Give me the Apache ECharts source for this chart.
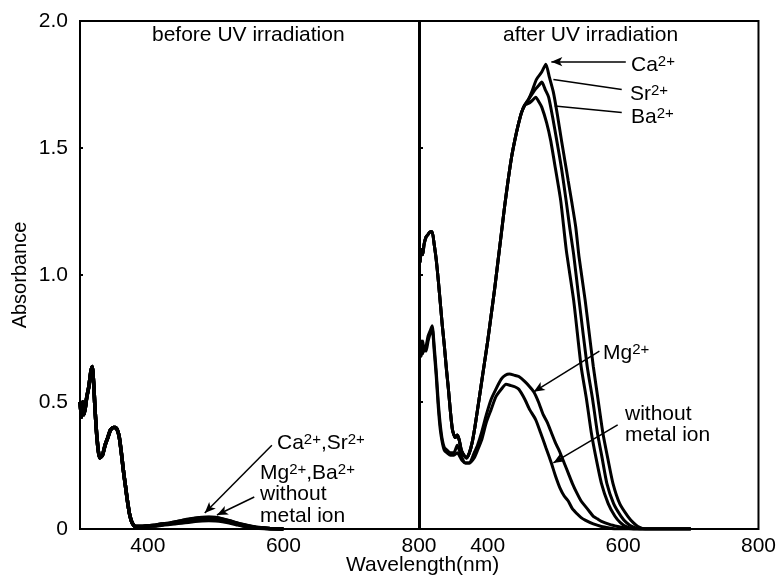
<!DOCTYPE html>
<html>
<head>
    <meta charset="utf-8">
    <title>Absorbance</title>
    <script src="https://cdn.jsdelivr.net/npm/echarts@6/dist/echarts.min.js"></script>
    <style>
        html, body { margin: 0; padding: 0; background: #fff; }
        #main { width: 779px; height: 581px; }
    </style>
</head>
<body>
<div id="main"></div>
<script type="text/javascript">
    // before UV: shared UV part (all ions overlap)
    var beforeUvNm = [300, 302, 304, 306, 308, 310, 313, 316, 318, 320, 322, 325, 329, 333, 337, 341, 345, 349, 352, 355, 358, 361, 364, 367, 370, 373, 376, 379, 382, 390, 400];
    var beforeUvAbs = [0.50, 0.44, 0.50, 0.45, 0.48, 0.52, 0.56, 0.62, 0.64, 0.58, 0.48, 0.36, 0.28, 0.29, 0.33, 0.36, 0.39, 0.40, 0.40, 0.39, 0.36, 0.30, 0.23, 0.17, 0.11, 0.06, 0.03, 0.015, 0.01, 0.01, 0.012];

    // before UV: weak visible band
    var beforeVisNm = [410, 420, 430, 440, 450, 460, 470, 480, 490, 500, 510, 520, 530, 540, 550, 560, 570, 580, 600];
    var beforeCa = [0.015, 0.02, 0.022, 0.028, 0.033, 0.038, 0.042, 0.045, 0.046, 0.045, 0.04, 0.033, 0.025, 0.018, 0.012, 0.007, 0.004, 0.002, 0];
    var beforeSr = [0.015, 0.02, 0.022, 0.027, 0.032, 0.037, 0.041, 0.044, 0.045, 0.044, 0.039, 0.032, 0.024, 0.017, 0.011, 0.006, 0.004, 0.002, 0];
    var beforeMg = [0.013, 0.017, 0.02, 0.024, 0.028, 0.032, 0.035, 0.037, 0.038, 0.037, 0.033, 0.027, 0.02, 0.014, 0.009, 0.005, 0.003, 0.001, 0];
    var beforeBa = [0.013, 0.017, 0.02, 0.025, 0.029, 0.033, 0.036, 0.038, 0.039, 0.038, 0.034, 0.028, 0.021, 0.015, 0.01, 0.005, 0.003, 0.001, 0];
    var beforeNone = [0.012, 0.015, 0.018, 0.021, 0.024, 0.027, 0.03, 0.032, 0.033, 0.032, 0.029, 0.024, 0.018, 0.012, 0.008, 0.004, 0.002, 0.001, 0];

    // after UV: Ca / Sr / Ba share the part below 455 nm
    var afterHighNm = [300, 302, 304, 306, 309, 312, 315, 318, 321, 324, 327, 330, 333, 336, 339, 342, 345, 348, 352, 355, 358, 361, 365, 369, 373, 377, 381, 385, 390, 395, 400, 405, 410, 415, 420, 425, 430, 435, 440, 445, 450, 455];
    var afterHighAbs = [1.05, 1.10, 1.08, 1.12, 1.15, 1.16, 1.17, 1.17, 1.12, 1.06, 0.98, 0.89, 0.80, 0.72, 0.63, 0.55, 0.46, 0.39, 0.36, 0.37, 0.35, 0.31, 0.29, 0.28, 0.30, 0.34, 0.40, 0.47, 0.56, 0.65, 0.74, 0.84, 0.94, 1.05, 1.16, 1.27, 1.37, 1.46, 1.53, 1.59, 1.64, 1.67];

    var caNm = [460, 465, 472, 480, 486, 491, 497, 503, 509, 514, 519, 524, 530, 535, 544, 550, 556, 563, 570, 578, 585, 595, 607, 615, 622, 633, 700];
    var caAbs = [1.69, 1.72, 1.77, 1.80, 1.83, 1.78, 1.72, 1.63, 1.53, 1.45, 1.37, 1.29, 1.19, 1.07, 0.90, 0.77, 0.64, 0.51, 0.38, 0.27, 0.18, 0.10, 0.05, 0.025, 0.01, 0, 0];
    var srNm = [460, 465, 470, 475, 480, 485, 490, 496, 502, 509, 516, 521, 527, 535, 547, 555, 562, 569, 576, 586, 597, 605, 613, 625, 700];
    var srAbs = [1.69, 1.71, 1.73, 1.745, 1.76, 1.73, 1.70, 1.62, 1.53, 1.42, 1.29, 1.19, 1.08, 0.90, 0.64, 0.51, 0.38, 0.28, 0.18, 0.10, 0.05, 0.025, 0.01, 0, 0];
    var baNm = [460, 465, 471, 476, 480, 487, 493, 500, 508, 516, 527, 538, 546, 553, 560, 568, 578, 588, 596, 604, 616, 700];
    var baAbs = [1.675, 1.685, 1.70, 1.68, 1.66, 1.60, 1.53, 1.42, 1.29, 1.10, 0.90, 0.64, 0.51, 0.38, 0.28, 0.18, 0.10, 0.05, 0.025, 0.01, 0, 0];

    // after UV: Mg2+ and no metal ion
    var mgNm = [300, 302, 304, 306, 309, 312, 315, 318, 321, 324, 327, 330, 333, 336, 340, 345, 350, 355, 358, 362, 367, 373, 380, 385, 391, 398, 405, 412, 420, 426, 432, 440, 446, 455, 462, 468, 475, 482, 488, 494, 500, 507, 513, 519, 525, 532, 538, 544, 550, 556, 562, 568, 580, 592, 605, 615, 700];
    var mgAbs = [0.72, 0.68, 0.74, 0.70, 0.72, 0.76, 0.78, 0.80, 0.72, 0.62, 0.50, 0.41, 0.35, 0.32, 0.31, 0.30, 0.30, 0.33, 0.31, 0.28, 0.26, 0.26, 0.30, 0.33, 0.38, 0.45, 0.51, 0.55, 0.59, 0.605, 0.61, 0.605, 0.60, 0.58, 0.56, 0.54, 0.50, 0.45, 0.42, 0.38, 0.34, 0.30, 0.26, 0.22, 0.18, 0.14, 0.11, 0.09, 0.07, 0.05, 0.04, 0.03, 0.018, 0.01, 0.003, 0, 0];
    var noneNm = [300, 302, 304, 306, 309, 312, 315, 318, 321, 324, 327, 330, 333, 336, 340, 345, 350, 355, 358, 362, 367, 373, 380, 385, 391, 398, 405, 412, 420, 427, 434, 440, 446, 455, 462, 471, 478, 486, 494, 500, 507, 513, 519, 525, 532, 538, 544, 556, 568, 580, 590, 700];
    var noneAbs = [0.70, 0.74, 0.69, 0.72, 0.70, 0.74, 0.77, 0.79, 0.70, 0.60, 0.48, 0.39, 0.34, 0.31, 0.30, 0.29, 0.29, 0.30, 0.29, 0.27, 0.26, 0.26, 0.28, 0.31, 0.35, 0.42, 0.47, 0.52, 0.55, 0.57, 0.565, 0.56, 0.55, 0.51, 0.47, 0.43, 0.38, 0.32, 0.26, 0.21, 0.16, 0.13, 0.11, 0.08, 0.06, 0.045, 0.035, 0.02, 0.01, 0.004, 0, 0];

    var xTickLabels = [400, 600, 800];

    function pairs(nm, abs) {
        var out = [];
        for (var i = 0; i < nm.length; i++) {
            out.push([nm[i], abs[i]]);
        }
        return out;
    }

    var FONT = 'Liberation Sans, Arial, sans-serif';
    var chart = echarts.init(document.getElementById('main'));

    function xAxisFor(gridIndex) {
        return {
            type: 'value', gridIndex: gridIndex, min: 300, max: 800, interval: 100,
            axisLine: {show: false}, axisTick: {show: false}, splitLine: {show: false},
            axisLabel: {
                color: '#000', fontSize: 21, fontFamily: FONT, margin: 7,
                formatter: function (v) { return xTickLabels.indexOf(v) >= 0 ? String(v) : ''; }
            }
        };
    }

    function yAxisFor(gridIndex, showLabel) {
        return {
            type: 'value', gridIndex: gridIndex, min: 0, max: 2, interval: 0.5,
            axisLine: {show: false}, splitLine: {show: false},
            axisTick: {show: true, inside: true, length: 3, lineStyle: {color: '#000', width: 2}},
            axisLabel: {
                show: showLabel, color: '#000', fontSize: 21, fontFamily: FONT, margin: 12,
                formatter: function (v) { return v === 0 ? '0' : v.toFixed(1); }
            },
            name: showLabel ? 'Absorbance' : '',
            nameLocation: 'middle', nameGap: 50,
            nameTextStyle: {color: '#000', fontSize: 20, fontFamily: FONT}
        };
    }

    function lineSeries(name, xi, data, width, extra) {
        var s = {
            name: name, type: 'line', xAxisIndex: xi, yAxisIndex: xi,
            data: data, showSymbol: false, smooth: 0.2,
            lineStyle: {color: '#000', width: width}, z: 3
        };
        if (extra) { s.markLine = extra; }
        return s;
    }

    function arrows(list) {
        return {
            silent: true, animation: false,
            label: {show: false},
            lineStyle: {color: '#000', width: 1.5, type: 'solid'},
            symbolSize: [7, 11],
            data: list
        };
    }

    // annotation leader lines, in data coordinates
    var leftArrows = arrows([
        [{coord: [583, 0.33], symbol: 'none'}, {coord: [484, 0.063], symbol: 'arrow'}],
        [{coord: [557, 0.126], symbol: 'none'}, {coord: [502, 0.055], symbol: 'arrow'}]
    ]);
    var rightArrows = arrows([
        [{coord: [604, 1.84], symbol: 'none'}, {coord: [494, 1.84], symbol: 'arrow'}],
        [{coord: [598, 1.73], symbol: 'none'}, {coord: [497, 1.77], symbol: 'none'}],
        [{coord: [598, 1.64], symbol: 'none'}, {coord: [499, 1.665], symbol: 'none'}],
        [{coord: [565, 0.70], symbol: 'none'}, {coord: [468, 0.54], symbol: 'arrow'}],
        [{coord: [592, 0.41], symbol: 'none'}, {coord: [497, 0.26], symbol: 'arrow'}]
    ]);

    var rich = {
        b: {fontSize: 21, fontFamily: FONT, color: '#000', lineHeight: 22},
        s: {fontSize: 15, fontFamily: FONT, color: '#000', verticalAlign: 'top', lineHeight: 22}
    };

    function label(x, y, text) {
        return {
            type: 'text', left: x, top: y, z: 10,
            style: {text: text, rich: rich, fill: '#000', font: '21px ' + FONT}
        };
    }

    var option = {
        animation: false,
        backgroundColor: '#fff',
        grid: [
            {left: 80, top: 21, width: 339, height: 508, show: true, borderColor: '#000', borderWidth: 2},
            {left: 420, top: 21, width: 342, height: 508, show: true, borderColor: '#000', borderWidth: 2}
        ],
        xAxis: [xAxisFor(0), xAxisFor(1)],
        yAxis: [yAxisFor(0, true), yAxisFor(1, false)],
        graphic: [
            {type: 'text', left: 152, top: 25, style: {text: 'before UV irradiation', fill: '#000', font: '21px ' + FONT}},
            {type: 'text', left: 503, top: 25, style: {text: 'after UV irradiation', fill: '#000', font: '21px ' + FONT}},
            {type: 'text', left: 346, top: 555, style: {text: 'Wavelength(nm)', fill: '#000', font: '21px ' + FONT}},
            label(631, 54, '{b|Ca}{s|2+}'),
            label(630, 83, '{b|Sr}{s|2+}'),
            label(631, 106, '{b|Ba}{s|2+}'),
            label(603, 342, '{b|Mg}{s|2+}'),
            label(625, 404, '{b|without}'),
            label(625, 425, '{b|metal ion}'),
            label(277, 432, '{b|Ca}{s|2+}{b|,Sr}{s|2+}'),
            label(260, 462, '{b|Mg}{s|2+}{b|,Ba}{s|2+}'),
            label(260, 484, '{b|without}'),
            label(260, 506, '{b|metal ion}')
        ],
        series: [
            lineSeries('Ca before', 0, pairs(beforeUvNm.concat(beforeVisNm), beforeUvAbs.concat(beforeCa)), 3.5, leftArrows),
            lineSeries('Sr before', 0, pairs(beforeUvNm.concat(beforeVisNm), beforeUvAbs.concat(beforeSr)), 3.5),
            lineSeries('Mg before', 0, pairs(beforeUvNm.concat(beforeVisNm), beforeUvAbs.concat(beforeMg)), 3.5),
            lineSeries('Ba before', 0, pairs(beforeUvNm.concat(beforeVisNm), beforeUvAbs.concat(beforeBa)), 3.5),
            lineSeries('none before', 0, pairs(beforeUvNm.concat(beforeVisNm), beforeUvAbs.concat(beforeNone)), 3.5),
            lineSeries('Ca after', 1, pairs(afterHighNm.concat(caNm), afterHighAbs.concat(caAbs)), 3, rightArrows),
            lineSeries('Sr after', 1, pairs(afterHighNm.concat(srNm), afterHighAbs.concat(srAbs)), 3),
            lineSeries('Ba after', 1, pairs(afterHighNm.concat(baNm), afterHighAbs.concat(baAbs)), 3),
            lineSeries('Mg after', 1, pairs(mgNm, mgAbs), 3),
            lineSeries('none after', 1, pairs(noneNm, noneAbs), 3)
        ]
    };
    chart.setOption(option);
</script>
</body>
</html>
